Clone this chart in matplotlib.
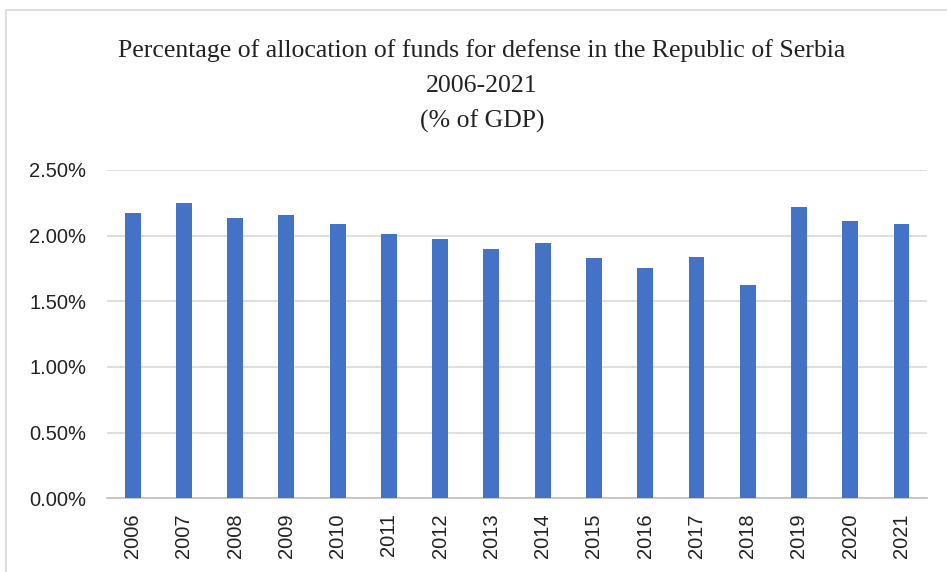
import matplotlib.pyplot as plt
from matplotlib.patches import Rectangle
from matplotlib.ticker import PercentFormatter

years = [str(y) for y in range(2006, 2022)]
share_gdp = [2.17, 2.25, 2.13, 2.16, 2.09, 2.01, 1.97, 1.90,
             1.94, 1.83, 1.75, 1.84, 1.62, 2.22, 2.11, 2.09]
title_lines = ["Percentage of allocation of funds for defense in the Republic of Serbia",
               "2006-2021", "(% of GDP)"]

fig = plt.figure(figsize=(9.47, 5.72), dpi=100)
ax = fig.add_axes([0.113, 0.129, 0.866, 0.574])

# outer chart frame
fig.patches.append(Rectangle((0.006, -0.05), 1.2, 1.033, transform=fig.transFigure,
                             fill=False, edgecolor='#d9d9d9', linewidth=1.2))

ax.bar(years, share_gdp, width=0.31, color='#4472C4', zorder=3)
ax.set_xlim(-0.5, len(years) - 0.5)
ax.set_ylim(0, 2.5)
ax.set_yticks([0, 0.5, 1.0, 1.5, 2.0, 2.5])
ax.yaxis.set_major_formatter(PercentFormatter(decimals=2))
ax.grid(axis='y', color='#d9d9d9', linewidth=1.2, zorder=0)

for s in ['top', 'right', 'left']:
    ax.spines[s].set_visible(False)
ax.spines['bottom'].set_color('#bfbfbf')
ax.spines['bottom'].set_linewidth(1.2)
ax.tick_params(length=0, labelsize=14.5, colors='#222222')
ax.tick_params(axis='x', rotation=90, pad=11)
ax.tick_params(axis='y', pad=15)
for lbl in ax.get_xticklabels() + ax.get_yticklabels():
    lbl.set_fontfamily('Liberation Sans')

for i, line in enumerate(title_lines):
    fig.text(0.509, 0.912 - i * 0.062, line, ha='center', va='center',
             fontsize=18.5, family='Liberation Serif', color='#222222')

fig.savefig('out.png', dpi=100)
